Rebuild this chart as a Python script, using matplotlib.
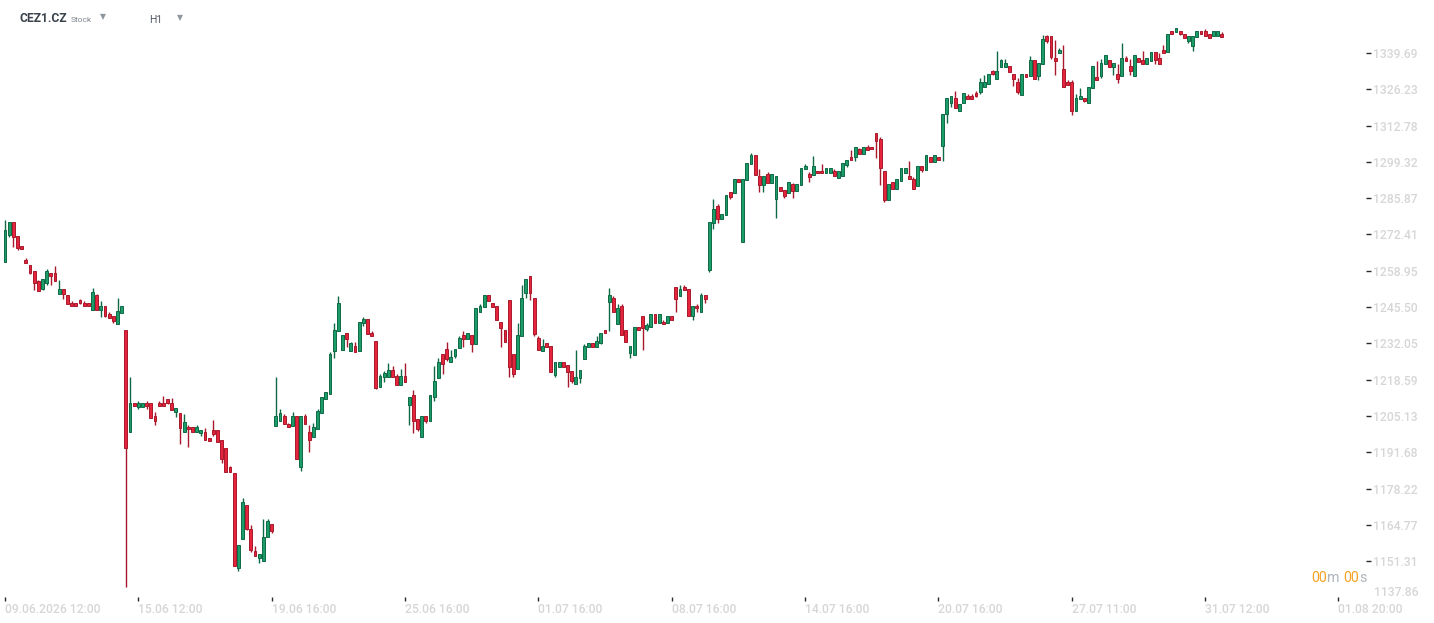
import numpy as np
import matplotlib
matplotlib.use("Agg")
import matplotlib.pyplot as plt

# hourly OHLC, one value per candle (left to right)
opens = [
    1262.3, 1272.3, 1276.9, 1271.7, 1268.0, 1262.9, 1261.1, 1258.8, 1255.3, 1252.0,
    1254.5, 1258.0, 1258.0, 1250.4, 1252.1, 1249.8, 1246.9, 1246.9, 1248.1, 1246.9,
    1246.9, 1244.5, 1249.8, 1244.5, 1245.8, 1242.8, 1242.1, 1239.3, 1243.4, 1236.9,
    1199.2, 1209.8, 1208.5, 1208.5, 1209.8, 1209.8, 1205.1, 1209.8, 1209.8, 1211.3,
    1209.8, 1206.4, 1206.2, 1199.3, 1201.0, 1201.0, 1199.3, 1198.7, 1199.0, 1196.9,
    1199.9, 1199.9, 1196.2, 1193.1, 1186.3, 1183.8, 1148.6, 1159.6, 1172.0, 1163.1,
    1155.0, 1152.6, 1151.5, 1160.3, 1165.1, 1201.5, 1203.3, 1205.1, 1202.1, 1201.5,
    1205.1, 1186.3, 1205.1, 1199.2, 1197.4, 1200.4, 1206.3, 1211.5, 1213.4, 1229.3,
    1236.5, 1229.4, 1235.7, 1229.3, 1230.9, 1229.3, 1239.5, 1241.0, 1235.9, 1232.9,
    1215.7, 1219.4, 1219.4, 1222.0, 1219.8, 1216.5, 1219.8, 1209.3, 1212.8, 1203.9,
    1197.4, 1205.1, 1203.3, 1212.3, 1219.3, 1228.0, 1229.8, 1225.2, 1227.4, 1230.4,
    1235.0, 1233.5, 1235.0, 1231.7, 1243.5, 1245.4, 1249.8, 1246.9, 1245.8, 1239.8,
    1236.9, 1248.0, 1228.0, 1222.4, 1234.6, 1250.6, 1256.9, 1248.7, 1233.9, 1229.3,
    1232.0, 1230.9, 1220.3, 1223.4, 1225.0, 1223.9, 1221.7, 1217.0, 1219.3, 1226.3,
    1230.6, 1232.0, 1230.6, 1232.3, 1236.9, 1247.5, 1248.7, 1239.3, 1245.8, 1236.9,
    1228.6, 1227.6, 1238.0, 1242.1, 1237.5, 1238.2, 1242.8, 1239.5, 1239.9, 1239.5,
    1242.1, 1252.8, 1249.5, 1252.9, 1252.2, 1242.3, 1245.8, 1243.5, 1249.9, 1259.3,
    1276.5, 1282.9, 1278.2, 1279.5, 1288.0, 1287.6, 1292.8, 1269.5, 1292.5, 1298.4,
    1301.7, 1293.9, 1290.6, 1294.7, 1291.4, 1285.4, 1289.9, 1288.8, 1287.6, 1291.0,
    1288.4, 1290.6, 1296.5, 1294.7, 1294.3, 1295.8, 1295.8, 1295.3, 1295.3, 1295.9,
    1293.4, 1294.2, 1298.2, 1301.1, 1301.2, 1304.1, 1302.3, 1304.8, 1304.8, 1310.0,
    1307.8, 1295.9, 1285.3, 1291.8, 1289.3, 1292.3, 1295.3, 1294.1, 1292.9, 1290.5,
    1297.8, 1296.4, 1301.1, 1299.4, 1301.1, 1305.3, 1317.1, 1321.2, 1323.0, 1318.3,
    1321.2, 1323.7, 1323.7, 1324.7, 1325.2, 1327.2, 1328.3, 1333.0, 1330.1, 1334.4,
    1334.4, 1334.8, 1331.9, 1328.9, 1324.2, 1331.9, 1331.2, 1337.1, 1331.2, 1335.5,
    1346.1, 1346.0, 1337.8, 1339.5, 1333.7, 1328.9, 1328.9, 1318.3, 1322.5, 1323.0,
    1321.2, 1326.6, 1330.8, 1331.2, 1335.5, 1337.1, 1334.4, 1331.9, 1331.2, 1337.8,
    1334.8, 1331.2, 1337.8, 1337.1, 1335.5, 1336.6, 1340.0, 1337.8, 1340.8, 1340.1,
    1347.8, 1347.3, 1347.8, 1346.7, 1344.2, 1342.4, 1345.5, 1347.8, 1347.8, 1346.7,
    1346.1, 1346.1, 1346.8,
]
highs = [
    1277.7, 1276.9, 1276.9, 1271.7, 1268.0, 1263.7, 1261.1, 1258.8, 1255.5, 1255.8,
    1259.6, 1258.0, 1260.7, 1255.5, 1252.1, 1249.8, 1247.6, 1246.9, 1248.6, 1247.6,
    1246.9, 1252.4, 1250.4, 1247.6, 1245.8, 1243.6, 1242.1, 1248.9, 1245.8, 1236.9,
    1219.5, 1209.8, 1210.5, 1209.8, 1210.5, 1209.8, 1206.6, 1210.5, 1212.5, 1211.3,
    1211.8, 1208.0, 1206.2, 1205.9, 1201.8, 1201.0, 1201.8, 1199.9, 1200.6, 1196.9,
    1203.6, 1199.9, 1196.2, 1193.1, 1186.6, 1183.8, 1157.2, 1174.7, 1172.0, 1164.7,
    1156.9, 1153.8, 1166.9, 1166.9, 1165.1, 1219.5, 1207.7, 1205.8, 1202.5, 1206.6,
    1205.1, 1205.1, 1205.8, 1201.8, 1202.5, 1207.7, 1212.1, 1214.0, 1228.7, 1239.6,
    1249.6, 1235.0, 1235.7, 1232.5, 1232.5, 1239.8, 1241.8, 1241.0, 1236.6, 1232.9,
    1220.6, 1221.7, 1224.6, 1223.5, 1220.6, 1222.5, 1224.6, 1212.1, 1214.6, 1203.9,
    1205.1, 1205.1, 1212.8, 1223.5, 1226.5, 1228.0, 1232.5, 1229.4, 1229.8, 1234.7,
    1236.6, 1235.7, 1235.0, 1245.0, 1246.6, 1249.8, 1249.8, 1246.9, 1245.8, 1239.8,
    1236.9, 1248.0, 1228.0, 1239.6, 1253.7, 1255.8, 1256.9, 1248.7, 1234.6, 1233.5,
    1232.0, 1230.9, 1225.0, 1225.0, 1225.0, 1223.9, 1221.7, 1229.6, 1222.1, 1231.8,
    1232.0, 1232.0, 1234.7, 1235.7, 1236.9, 1252.5, 1249.6, 1246.6, 1246.6, 1236.9,
    1230.9, 1238.0, 1238.0, 1242.1, 1239.5, 1242.8, 1242.8, 1242.8, 1240.7, 1242.1,
    1242.1, 1252.8, 1253.7, 1253.7, 1252.2, 1245.8, 1246.5, 1250.7, 1249.9, 1276.9,
    1285.4, 1283.7, 1279.9, 1286.9, 1288.0, 1292.8, 1292.8, 1292.8, 1298.8, 1302.6,
    1301.7, 1296.5, 1293.9, 1295.4, 1294.7, 1293.9, 1289.9, 1288.8, 1291.7, 1291.3,
    1291.0, 1296.9, 1298.4, 1295.4, 1301.5, 1295.8, 1298.4, 1297.0, 1297.0, 1296.6,
    1295.9, 1298.9, 1300.0, 1303.7, 1304.8, 1304.4, 1304.8, 1305.5, 1304.8, 1310.0,
    1308.5, 1295.9, 1291.1, 1291.8, 1292.9, 1297.0, 1297.0, 1299.7, 1293.7, 1297.8,
    1297.8, 1301.8, 1301.1, 1301.8, 1301.1, 1317.0, 1323.0, 1323.6, 1325.7, 1320.7,
    1324.7, 1324.5, 1324.5, 1325.6, 1330.4, 1331.5, 1331.9, 1333.2, 1340.4, 1337.4,
    1337.4, 1334.8, 1331.9, 1330.4, 1331.9, 1331.9, 1338.5, 1337.1, 1336.0, 1346.3,
    1346.4, 1346.0, 1344.5, 1341.5, 1342.6, 1329.5, 1329.5, 1324.5, 1326.6, 1323.0,
    1327.0, 1334.8, 1336.7, 1337.4, 1338.9, 1337.1, 1336.0, 1335.5, 1343.4, 1338.5,
    1337.4, 1338.9, 1337.8, 1340.4, 1337.8, 1340.0, 1340.0, 1339.7, 1342.6, 1346.7,
    1347.8, 1348.8, 1347.8, 1346.7, 1346.0, 1346.0, 1347.8, 1347.8, 1348.6, 1346.7,
    1347.8, 1347.8, 1347.4,
]
lows = [
    1262.3, 1271.6, 1267.9, 1266.6, 1267.1, 1261.9, 1257.7, 1251.8, 1251.5, 1251.8,
    1253.6, 1253.6, 1255.3, 1250.4, 1248.6, 1246.5, 1246.0, 1246.0, 1246.7, 1246.0,
    1246.0, 1244.5, 1244.5, 1241.8, 1241.8, 1241.5, 1239.7, 1239.3, 1243.4, 1141.8,
    1199.2, 1208.9, 1207.7, 1208.5, 1207.7, 1204.5, 1201.7, 1208.9, 1208.9, 1209.5,
    1207.4, 1204.9, 1194.9, 1199.3, 1193.7, 1199.3, 1199.3, 1197.8, 1196.3, 1195.9,
    1197.8, 1195.6, 1187.8, 1184.4, 1184.4, 1149.6, 1147.7, 1159.6, 1162.8, 1154.8,
    1153.3, 1150.7, 1151.5, 1160.3, 1161.8, 1201.5, 1203.3, 1202.2, 1201.1, 1201.5,
    1189.3, 1184.8, 1202.2, 1191.9, 1197.4, 1200.4, 1206.3, 1211.5, 1213.4, 1226.7,
    1236.5, 1229.4, 1230.8, 1229.3, 1228.7, 1229.3, 1238.6, 1235.4, 1234.9, 1215.0,
    1215.7, 1217.8, 1219.4, 1219.4, 1216.5, 1216.5, 1217.6, 1201.9, 1198.9, 1199.6,
    1197.4, 1202.6, 1203.3, 1210.8, 1219.3, 1220.8, 1225.6, 1225.2, 1226.7, 1230.4,
    1230.8, 1233.5, 1228.9, 1231.7, 1243.5, 1245.4, 1247.6, 1245.4, 1240.6, 1230.8,
    1232.4, 1219.7, 1219.7, 1222.4, 1234.6, 1248.7, 1248.0, 1234.7, 1229.4, 1229.3,
    1230.6, 1221.5, 1219.7, 1223.4, 1223.4, 1215.9, 1217.4, 1217.0, 1217.4, 1226.3,
    1230.6, 1230.6, 1230.6, 1231.8, 1236.0, 1236.6, 1243.5, 1239.3, 1235.2, 1232.4,
    1226.7, 1227.6, 1237.1, 1229.7, 1236.7, 1238.2, 1239.5, 1239.5, 1239.1, 1239.5,
    1240.6, 1243.8, 1249.5, 1251.9, 1242.3, 1240.8, 1243.5, 1243.5, 1246.9, 1258.6,
    1274.5, 1276.7, 1278.2, 1279.5, 1285.6, 1287.6, 1291.9, 1269.5, 1292.5, 1298.4,
    1294.3, 1288.0, 1288.0, 1291.4, 1291.4, 1278.6, 1288.4, 1285.8, 1287.6, 1285.8,
    1288.4, 1290.6, 1296.5, 1291.7, 1294.3, 1295.1, 1295.1, 1295.3, 1295.3, 1294.2,
    1293.4, 1294.2, 1297.5, 1300.0, 1299.7, 1302.3, 1302.3, 1303.6, 1304.0, 1300.8,
    1290.8, 1284.5, 1285.3, 1289.3, 1289.3, 1292.3, 1295.3, 1292.9, 1289.3, 1290.5,
    1295.6, 1296.4, 1299.4, 1299.4, 1300.1, 1299.6, 1313.8, 1319.7, 1319.4, 1318.3,
    1321.2, 1322.7, 1322.7, 1323.3, 1324.5, 1327.2, 1328.3, 1331.5, 1330.1, 1334.4,
    1334.4, 1332.5, 1327.5, 1324.5, 1324.2, 1330.9, 1331.2, 1330.1, 1329.6, 1335.5,
    1343.5, 1337.4, 1331.5, 1339.5, 1327.2, 1327.9, 1316.7, 1318.3, 1322.5, 1321.5,
    1321.2, 1326.6, 1329.6, 1330.5, 1335.5, 1334.4, 1331.6, 1328.6, 1331.2, 1336.8,
    1331.5, 1331.2, 1336.4, 1335.5, 1335.5, 1336.6, 1335.7, 1335.5, 1339.8, 1340.1,
    1346.8, 1347.3, 1346.4, 1345.3, 1343.5, 1340.5, 1345.5, 1346.8, 1346.1, 1345.3,
    1346.1, 1346.1, 1345.7,
]
closes = [
    1274.0, 1276.9, 1271.4, 1267.4, 1267.1, 1261.9, 1258.2, 1254.5, 1251.5, 1255.8,
    1258.8, 1257.0, 1255.3, 1252.1, 1250.4, 1246.5, 1246.0, 1246.0, 1247.1, 1246.0,
    1246.0, 1250.9, 1244.5, 1245.8, 1242.3, 1241.5, 1240.4, 1243.9, 1245.8, 1193.3,
    1209.8, 1208.9, 1209.8, 1209.8, 1208.9, 1204.5, 1203.3, 1208.9, 1208.9, 1209.9,
    1207.4, 1208.0, 1200.5, 1202.8, 1200.1, 1199.3, 1201.0, 1199.9, 1196.3, 1195.9,
    1198.5, 1195.6, 1189.3, 1184.4, 1184.4, 1149.6, 1157.2, 1173.1, 1163.2, 1155.5,
    1153.3, 1153.8, 1160.1, 1166.1, 1162.6, 1205.1, 1206.2, 1202.2, 1201.1, 1205.1,
    1189.3, 1205.1, 1202.2, 1196.2, 1201.0, 1206.9, 1212.1, 1214.0, 1228.0, 1237.0,
    1246.9, 1235.0, 1233.5, 1232.0, 1228.7, 1239.8, 1241.0, 1235.4, 1234.9, 1215.6,
    1219.8, 1220.9, 1222.0, 1219.4, 1216.5, 1219.8, 1217.6, 1212.1, 1203.3, 1200.4,
    1205.1, 1203.3, 1212.8, 1218.0, 1225.0, 1224.5, 1226.3, 1226.8, 1229.8, 1233.9,
    1233.5, 1235.7, 1231.7, 1245.0, 1245.8, 1249.8, 1247.6, 1245.4, 1240.6, 1237.6,
    1232.4, 1223.4, 1220.6, 1235.0, 1248.7, 1255.8, 1250.6, 1235.4, 1229.4, 1230.9,
    1230.6, 1221.5, 1225.0, 1225.0, 1223.4, 1221.5, 1218.1, 1219.5, 1222.1, 1230.9,
    1232.0, 1230.6, 1232.8, 1235.7, 1236.0, 1249.8, 1243.5, 1245.0, 1235.2, 1232.4,
    1230.9, 1238.0, 1237.1, 1237.6, 1238.7, 1242.8, 1239.5, 1242.8, 1239.1, 1242.1,
    1240.6, 1248.4, 1252.2, 1251.9, 1242.3, 1245.8, 1245.0, 1249.9, 1248.4, 1276.9,
    1281.7, 1278.2, 1279.9, 1286.9, 1286.4, 1292.8, 1291.9, 1292.8, 1298.8, 1301.8,
    1294.3, 1290.6, 1293.9, 1291.4, 1294.7, 1293.9, 1288.4, 1286.5, 1291.7, 1288.4,
    1291.0, 1296.9, 1297.7, 1293.6, 1297.7, 1295.1, 1295.1, 1297.0, 1297.0, 1294.2,
    1295.9, 1298.9, 1300.0, 1300.0, 1304.8, 1302.3, 1304.8, 1303.6, 1304.0, 1307.1,
    1297.1, 1285.2, 1291.1, 1289.3, 1292.9, 1297.0, 1297.0, 1292.9, 1289.3, 1297.8,
    1296.4, 1301.8, 1299.4, 1301.8, 1300.1, 1317.0, 1323.0, 1323.6, 1319.4, 1320.7,
    1324.7, 1322.7, 1322.7, 1323.7, 1328.9, 1328.9, 1331.9, 1331.9, 1333.0, 1337.1,
    1336.0, 1332.5, 1330.1, 1325.2, 1331.9, 1330.9, 1337.1, 1330.1, 1336.0, 1344.8,
    1344.2, 1338.3, 1336.8, 1340.8, 1327.2, 1327.9, 1318.3, 1323.0, 1323.6, 1322.0,
    1327.0, 1334.8, 1329.6, 1336.0, 1338.9, 1334.4, 1336.0, 1330.1, 1337.8, 1336.8,
    1333.0, 1338.9, 1336.4, 1335.5, 1337.8, 1340.0, 1337.2, 1335.5, 1339.8, 1346.7,
    1346.8, 1348.8, 1346.8, 1345.3, 1346.0, 1346.0, 1347.8, 1346.8, 1346.1, 1345.3,
    1347.8, 1347.8, 1345.7,
]

# time axis: one label every 32 candles
time_tick_index = [0, 32, 64, 96, 128, 160, 192, 224, 256, 288, 320]
time_tick_labels = ["09.06.2026 12:00", "15.06 12:00", "19.06 16:00", "25.06 16:00",
                    "01.07 16:00", "08.07 16:00", "14.07 16:00", "20.07 16:00",
                    "27.07 11:00", "31.07 12:00", "01.08 20:00"]
price_ticks = [1151.31, 1164.77, 1178.22, 1191.68, 1205.13, 1218.59, 1232.05, 1245.50,
               1258.95, 1272.41, 1285.87, 1299.32, 1312.78, 1326.23, 1339.69]
bottom_price_label = "1137.86"

UP_FILL, UP_EDGE = "#1c9c68", "#0e6a45"
DOWN_FILL, DOWN_EDGE = "#e4253c", "#a8192c"
LABEL_GREY = "#d6d6d6"

W, H = 1434, 623


def draw_chart():
    plt.rcParams["font.family"] = ["Roboto", "DejaVu Sans"]

    fig = plt.figure(figsize=(W / 100, H / 100), dpi=100)
    fig.patch.set_facecolor("white")

    # plot area in pixels: x 0..1366, y 20..597
    ax = fig.add_axes([0, (H - 597) / H, 1366 / W, 577 / H])
    ax.set_facecolor("white")

    o = np.array(opens)
    c = np.array(closes)
    hi = np.array(highs)
    lo = np.array(lows)
    x = np.arange(len(o))
    up = c >= o

    edge = np.where(up, UP_EDGE, DOWN_EDGE)
    fill = np.where(up, UP_FILL, DOWN_FILL)

    ax.vlines(x, lo, hi, colors=edge, linewidth=1.0, zorder=1)
    body = np.maximum(np.abs(c - o), 0.6)
    ax.bar(x, body, bottom=np.minimum(o, c), width=0.68, color=fill,
           edgecolor=edge, linewidth=0.7, zorder=2)

    ax.set_xlim(-1.2, 326.6)
    ax.set_ylim(1138.0, 1351.9)

    for s in ax.spines.values():
        s.set_visible(False)

    ax.yaxis.tick_right()
    ax.set_yticks(price_ticks)
    ax.set_yticklabels(["%.2f" % p for p in price_ticks], fontweight="medium")
    ax.tick_params(axis="y", direction="out", length=3.6, width=1.0, color="#2b2b2b",
                   pad=1.5, labelsize=8.7, labelcolor=LABEL_GREY)

    ax.set_xticks(time_tick_index)
    ax.set_xticklabels(time_tick_labels, fontweight="medium")
    ax.tick_params(axis="x", direction="out", length=3.0, width=1.0, color="#2b2b2b",
                   pad=1.2, labelsize=8.7, labelcolor=LABEL_GREY)
    for lab in ax.get_xticklabels():
        lab.set_horizontalalignment("left")

    # lowest price label sits a bit higher and has no tick mark
    fig.text(1374 / W, 1 - 593 / H, bottom_price_label, fontsize=8.7,
             fontweight="medium", color=LABEL_GREY, va="center", ha="left")

    # header
    fig.text(20 / W, 1 - 19 / H, "CEZ1.CZ", fontsize=8.7, fontweight="bold",
             color="#3a424c", va="center", ha="left")
    fig.text(71 / W, 1 - 19.5 / H, "Stock", fontsize=6.0, color="#7f868d",
             va="center", ha="left")
    fig.text(100 / W, 1 - 17 / H, "\u25bc", fontsize=5.6, color="#8f959c",
             va="center", ha="left", family="DejaVu Sans")
    fig.text(149 / W, 1 - 20 / H, "H1", fontsize=7.5, color="#555b62",
             va="center", ha="left")
    fig.text(176.5 / W, 1 - 18 / H, "\u25bc", fontsize=5.6, color="#8f959c",
             va="center", ha="left", family="DejaVu Sans")

    # candle countdown
    orange, grey = "#f5a223", "#aeb4ba"
    for px, txt, col in [(1311.5, "00", orange), (1327.5, "m", grey),
                         (1343.5, "00", orange), (1359.3, "s", grey)]:
        fig.text(px / W, 1 - 578 / H, txt, fontsize=10.2, color=col,
                 va="center", ha="left")

    fig.savefig("out.png", dpi=100, facecolor="white")


def main():
    draw_chart()


if __name__ == "__main__":
    main()
